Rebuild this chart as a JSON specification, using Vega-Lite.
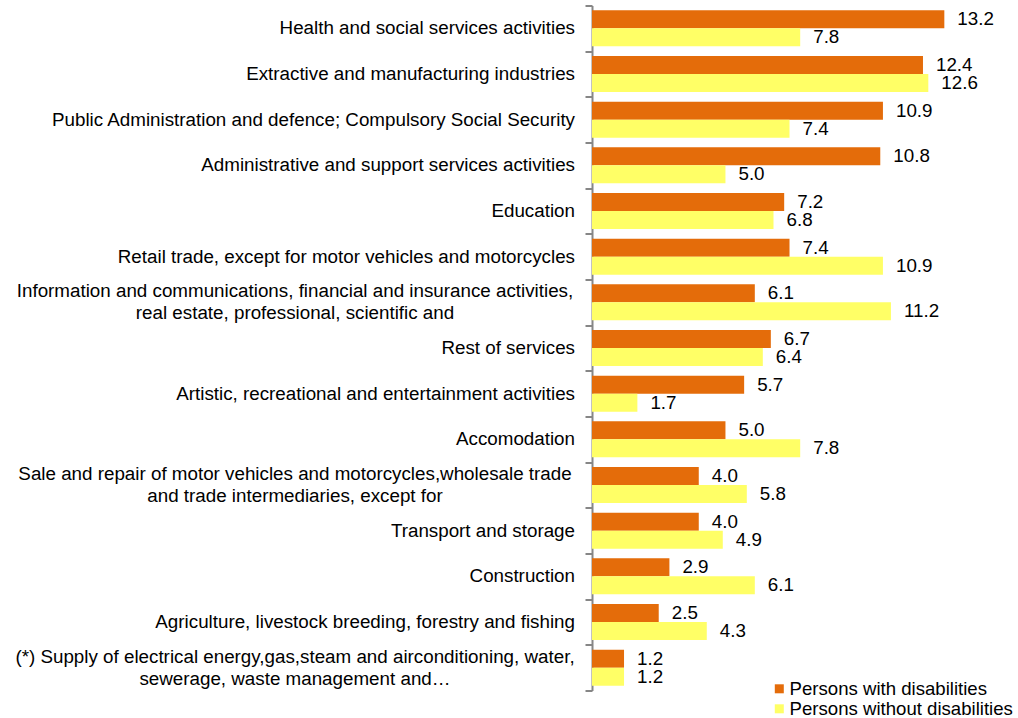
{
  "$schema": "https://vega.github.io/schema/vega-lite/v6.json",
  "autosize": "none",
  "width": 426,
  "height": 685,
  "padding": {"left": 592, "top": 5.5, "right": 0, "bottom": 27.5},
  "background": "white",
  "config": {"view": {"stroke": null}, "font": "Liberation Sans"},
  "data": {
    "values": [
      {"category": "Health and social services activities", "group": "Persons with disabilities", "value": 13.2},
      {"category": "Health and social services activities", "group": "Persons without disabilities", "value": 7.8},
      {"category": "Extractive and manufacturing industries", "group": "Persons with disabilities", "value": 12.4},
      {"category": "Extractive and manufacturing industries", "group": "Persons without disabilities", "value": 12.6},
      {"category": "Public Administration and defence; Compulsory Social Security", "group": "Persons with disabilities", "value": 10.9},
      {"category": "Public Administration and defence; Compulsory Social Security", "group": "Persons without disabilities", "value": 7.4},
      {"category": "Administrative and support services activities", "group": "Persons with disabilities", "value": 10.8},
      {"category": "Administrative and support services activities", "group": "Persons without disabilities", "value": 5.0},
      {"category": "Education", "group": "Persons with disabilities", "value": 7.2},
      {"category": "Education", "group": "Persons without disabilities", "value": 6.8},
      {"category": "Retail trade, except for motor vehicles and motorcycles", "group": "Persons with disabilities", "value": 7.4},
      {"category": "Retail trade, except for motor vehicles and motorcycles", "group": "Persons without disabilities", "value": 10.9},
      {"category": "Information and communications", "line1": "Information and communications, financial and insurance activities,", "line2": "real estate, professional, scientific and", "group": "Persons with disabilities", "value": 6.1},
      {"category": "Information and communications", "line1": "Information and communications, financial and insurance activities,", "line2": "real estate, professional, scientific and", "group": "Persons without disabilities", "value": 11.2},
      {"category": "Rest of services", "group": "Persons with disabilities", "value": 6.7},
      {"category": "Rest of services", "group": "Persons without disabilities", "value": 6.4},
      {"category": "Artistic, recreational and entertainment activities", "group": "Persons with disabilities", "value": 5.7},
      {"category": "Artistic, recreational and entertainment activities", "group": "Persons without disabilities", "value": 1.7},
      {"category": "Accomodation", "group": "Persons with disabilities", "value": 5.0},
      {"category": "Accomodation", "group": "Persons without disabilities", "value": 7.8},
      {"category": "Sale and repair of motor vehicles", "line1": "Sale and repair of motor vehicles and motorcycles,wholesale trade", "line2": "and trade intermediaries, except for", "group": "Persons with disabilities", "value": 4.0},
      {"category": "Sale and repair of motor vehicles", "line1": "Sale and repair of motor vehicles and motorcycles,wholesale trade", "line2": "and trade intermediaries, except for", "group": "Persons without disabilities", "value": 5.8},
      {"category": "Transport and storage", "group": "Persons with disabilities", "value": 4.0},
      {"category": "Transport and storage", "group": "Persons without disabilities", "value": 4.9},
      {"category": "Construction", "group": "Persons with disabilities", "value": 2.9},
      {"category": "Construction", "group": "Persons without disabilities", "value": 6.1},
      {"category": "Agriculture, livestock breeding, forestry and fishing", "group": "Persons with disabilities", "value": 2.5},
      {"category": "Agriculture, livestock breeding, forestry and fishing", "group": "Persons without disabilities", "value": 4.3},
      {"category": "(*) Supply of electrical energy", "line1": "(*) Supply of electrical energy,gas,steam and airconditioning, water,", "line2": "sewerage, waste management and…", "group": "Persons with disabilities", "value": 1.2},
      {"category": "(*) Supply of electrical energy", "line1": "(*) Supply of electrical energy,gas,steam and airconditioning, water,", "line2": "sewerage, waste management and…", "group": "Persons without disabilities", "value": 1.2}
    ]
  },
  "encoding": {
    "y": {
      "field": "category",
      "type": "nominal",
      "sort": null,
      "scale": {
        "domain": [
          "Health and social services activities",
          "Extractive and manufacturing industries",
          "Public Administration and defence; Compulsory Social Security",
          "Administrative and support services activities",
          "Education",
          "Retail trade, except for motor vehicles and motorcycles",
          "Information and communications",
          "Rest of services",
          "Artistic, recreational and entertainment activities",
          "Accomodation",
          "Sale and repair of motor vehicles",
          "Transport and storage",
          "Construction",
          "Agriculture, livestock breeding, forestry and fishing",
          "(*) Supply of electrical energy"
        ],
        "paddingInner": 0,
        "paddingOuter": 0
      },
      "axis": {
        "title": null,
        "labels": false,
        "domainColor": "#868686",
        "domainWidth": 2,
        "tickColor": "#868686",
        "tickWidth": 2,
        "tickSize": 7,
        "tickBand": "extent"
      }
    },
    "x": {
      "field": "value",
      "type": "quantitative",
      "scale": {"domain": [0, 15.96], "nice": false},
      "axis": null
    }
  },
  "layer": [
    {
      "mark": {"type": "bar"},
      "encoding": {
        "yOffset": {
          "field": "group",
          "type": "nominal",
          "sort": ["Persons with disabilities", "Persons without disabilities"],
          "scale": {"paddingInner": 0, "paddingOuter": 0.267}
        },
        "color": {
          "field": "group",
          "type": "nominal",
          "scale": {"domain": ["Persons with disabilities", "Persons without disabilities"], "range": ["#E46C0A", "#FFFF66"]},
          "legend": {
            "orient": "none",
            "legendX": 178,
            "legendY": 674,
            "title": null,
            "symbolType": "square",
            "symbolSize": 81,
            "symbolStrokeWidth": 0,
            "labelFontSize": 18.6,
            "labelColor": "black",
            "labelLimit": 400,
            "rowPadding": 1,
            "labelOffset": 1
          }
        }
      }
    },
    {
      "mark": {"type": "text", "align": "left", "baseline": "middle", "dx": 13, "fontSize": 18.8, "color": "black"},
      "encoding": {
        "yOffset": {
          "field": "group",
          "type": "nominal",
          "sort": ["Persons with disabilities", "Persons without disabilities"],
          "scale": {"paddingInner": 0, "paddingOuter": 0.267}
        },
        "text": {"field": "value", "type": "quantitative", "format": ".1f"}
      }
    },
    {
      "transform": [{"filter": "datum.group == 'Persons with disabilities' && !isValid(datum.line1)"}],
      "mark": {"type": "text", "align": "right", "baseline": "middle", "dx": -17, "fontSize": 18.8, "color": "black"},
      "encoding": {
        "x": {"datum": 0, "type": "quantitative"},
        "text": {"field": "category", "type": "nominal"}
      }
    },
    {
      "transform": [{"filter": "datum.group == 'Persons with disabilities' && isValid(datum.line1)"}],
      "mark": {"type": "text", "align": "center", "baseline": "middle", "dx": -297, "dy": -11, "fontSize": 18.8, "color": "black"},
      "encoding": {
        "x": {"datum": 0, "type": "quantitative"},
        "text": {"field": "line1", "type": "nominal"}
      }
    },
    {
      "transform": [{"filter": "datum.group == 'Persons with disabilities' && isValid(datum.line1)"}],
      "mark": {"type": "text", "align": "center", "baseline": "middle", "dx": -297, "dy": 11, "fontSize": 18.8, "color": "black"},
      "encoding": {
        "x": {"datum": 0, "type": "quantitative"},
        "text": {"field": "line2", "type": "nominal"}
      }
    }
  ]
}
